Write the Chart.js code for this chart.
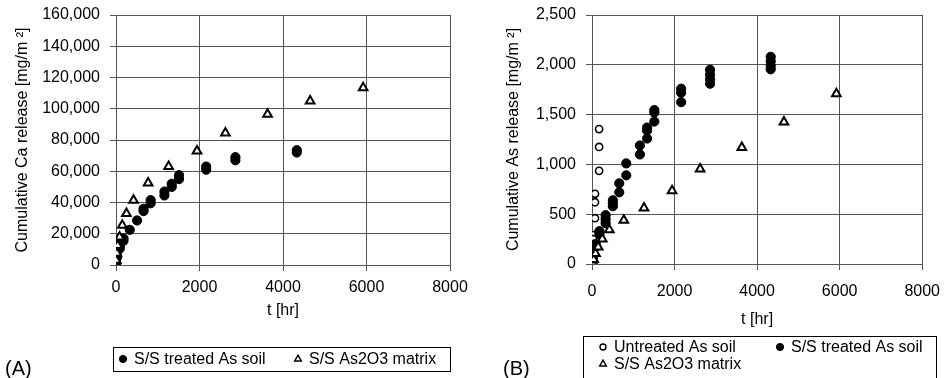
<!DOCTYPE html>
<html>
<head>
<meta charset="utf-8">
<script src="https://cdn.jsdelivr.net/npm/chart.js@4.4.0/dist/chart.umd.min.js"></script>
<style>
    body { margin: 0; background: #fff; }
    .panel { position: absolute; top: 0; width: 476px; height: 378px; }
</style>
</head>
<body>
<div class="panel" style="left:0"><canvas id="chartA" width="476" height="378"></canvas></div>
<div class="panel" style="left:476px"><canvas id="chartB" width="476" height="378"></canvas></div>
<script>
// sampling times [hr]
const treatedT = [5, 24, 90, 180, 330, 505, 660, 830, 1160, 1335, 1510, 2160, 2860, 4330];
const untreatedT = [5, 24, 72, 172];
const matrixT = [5, 20, 40, 85, 150, 250, 420, 770, 1260, 1940, 2620, 3630, 4650, 5920];

// (A) cumulative Ca release [mg/m2], replicates per time
const caTreated = [[1500, 500], [6500, 5000], [12000, 10500], [17000, 15500], [22500], [28500],
    [36000, 34500], [41500, 39500], [47000, 44500], [52000, 50000], [57500, 55000],
    [63000, 61000], [69000, 67000], [73500, 72000]];
const caMatrix = [3000, 7500, 12500, 18000, 25500, 33000, 41500, 52500, 63000, 73000, 84500, 96500, 105000, 113500];

// (B) cumulative As release [mg/m2]
const asUntreated = [[150, 90, 40], [290, 250, 200], [705, 620, 460], [1355, 1175, 935]];
const asTreated = [[20, 10], [90, 60], [200, 170], [330, 300], [490, 450, 410], [640, 610, 580],
    [810, 720], [1010, 890], [1190, 1100], [1370, 1340, 1260], [1545, 1520, 1430],
    [1760, 1720, 1625], [1950, 1900, 1855, 1810], [2080, 2035, 1990, 1955]];
const asMatrix = [5, 20, 45, 105, 170, 250, 345, 440, 563, 736, 953, 1170, 1426, 1710];

const xTicks = [0, 2000, 4000, 6000, 8000];
const caTicks = [0, 160000, 20000];   // min, max, step
const asTicks = [0, 2500, 500];

const FONT = '"Liberation Sans", Arial, Helvetica, sans-serif';

function reps(times, vals) {
    return times.flatMap((t, i) => vals[i].map(v => ({ x: t, y: v })));
}
function pairs(times, vals) {
    return times.map((t, i) => ({ x: t, y: vals[i] }));
}

const filledStyle = { pointStyle: 'circle', pointRadius: 4.6, backgroundColor: '#000', borderColor: '#000', pointBorderWidth: 1, borderWidth: 1 };
const openStyle = { pointStyle: 'circle', pointRadius: 3.6, backgroundColor: '#fff', borderColor: '#000', pointBorderWidth: 1.6, borderWidth: 1.6 };
const triStyle = { pointStyle: 'triangle', pointRadius: 5, backgroundColor: '#fff', borderColor: '#000', pointBorderWidth: 2, borderWidth: 2 };

// legend box + panel tag, drawn from the datasets
const boxLegend = {
    id: 'boxLegend',
    afterDraw(chart, args, opts) {
        const ctx = chart.ctx;
        ctx.save();
        ctx.strokeStyle = '#000';
        ctx.lineWidth = 1;
        ctx.strokeRect(opts.box[0] + 0.5, opts.box[1] + 0.5, opts.box[2], opts.box[3]);
        ctx.textBaseline = 'middle';
        opts.items.forEach(it => {
            const ds = chart.data.datasets[it.ds];
            ctx.fillStyle = ds.backgroundColor;
            ctx.strokeStyle = ds.borderColor;
            ctx.lineWidth = it.bw;
            Chart.helpers.drawPoint(ctx, { pointStyle: ds.pointStyle, radius: it.r, borderWidth: it.bw, rotation: 0 }, it.x, it.y);
            ctx.fillStyle = '#000';
            ctx.font = '16px ' + FONT;
            ctx.fillText(ds.label, it.x + 11, it.y + 1);
        });
        ctx.font = '20px ' + FONT;
        ctx.fillStyle = '#000';
        ctx.fillText(opts.tag[0], opts.tag[1], opts.tag[2]);
        ctx.restore();
    }
};

function makeChart(id, datasets, yt, yTitle, lay, legend) {
    return new Chart(document.getElementById(id), {
        type: 'scatter',
        data: { datasets: datasets },
        plugins: [boxLegend],
        options: {
            responsive: false,
            animation: false,
            devicePixelRatio: 1,
            events: [],
            layout: { padding: { left: lay.pl, right: lay.pr, top: lay.pt, bottom: lay.pb } },
            plugins: {
                legend: { display: false },
                tooltip: { enabled: false },
                boxLegend: legend
            },
            scales: {
                x: {
                    type: 'linear',
                    min: xTicks[0],
                    max: xTicks[xTicks.length - 1],
                    afterBuildTicks: s => { s.ticks = xTicks.map(v => ({ value: v })); },
                    afterFit: s => { s.height = lay.xh; },
                    grid: { color: '#555', tickLength: 6, lineWidth: 1 },
                    border: { color: '#555' },
                    ticks: { color: '#000', font: { family: FONT, size: 16 }, padding: lay.xp, callback: v => String(v) },
                    title: { display: true, text: 't [hr]', color: '#000', font: { family: FONT, size: 16 } }
                },
                y: {
                    type: 'linear',
                    min: yt[0],
                    max: yt[1],
                    afterFit: s => { s.width = lay.yw; s.paddingTop = 0; s.paddingBottom = 0; },
                    grid: { color: '#555', tickLength: 6, lineWidth: 1 },
                    border: { color: '#555' },
                    ticks: { stepSize: yt[2], color: '#000', font: { family: FONT, size: 16 }, padding: 10,
                        callback: v => v.toLocaleString('en-US') },
                    title: { display: true, text: yTitle, color: '#000', font: { family: FONT, size: 16 } }
                }
            }
        }
    });
}

makeChart('chartA', [
    Object.assign({ label: 'S/S treated As soil', data: reps(treatedT, caTreated), order: 2 }, filledStyle),
    Object.assign({ label: 'S/S As2O3 matrix', data: pairs(matrixT, caMatrix), order: 1 }, triStyle)
], caTicks, 'Cumulative Ca release [mg/m ²]',
    { pl: 9, pr: 26, pt: 15, pb: 54, yw: 107, xh: 59, xp: 7 },
    {
        box: [113, 347, 337, 24],
        items: [{ ds: 0, x: 123, y: 359, r: 3.6, bw: 1 }, { ds: 1, x: 298, y: 359, r: 3.8, bw: 1.5 }],
        tag: ['(A)', 5, 369]
    });

makeChart('chartB', [
    Object.assign({ label: 'Untreated As soil', data: reps(untreatedT, asUntreated), order: 3 }, openStyle),
    Object.assign({ label: 'S/S treated As soil', data: reps(treatedT, asTreated), order: 2 }, filledStyle),
    Object.assign({ label: 'S/S As2O3 matrix', data: pairs(matrixT, asMatrix), order: 1 }, triStyle)
], asTicks, 'Cumulative As release [mg/m ²]',
    { pl: 24, pr: 20, pt: 15, pb: 45, yw: 92, xh: 69, xp: 12 },
    {
        box: [107, 336, 353, 60],
        items: [{ ds: 0, x: 127, y: 347, r: 3, bw: 1.4 }, { ds: 1, x: 304, y: 347, r: 3.6, bw: 1 },
            { ds: 2, x: 127, y: 364, r: 3.8, bw: 1.5 }],
        tag: ['(B)', 27, 369]
    });
</script>
</body>
</html>
